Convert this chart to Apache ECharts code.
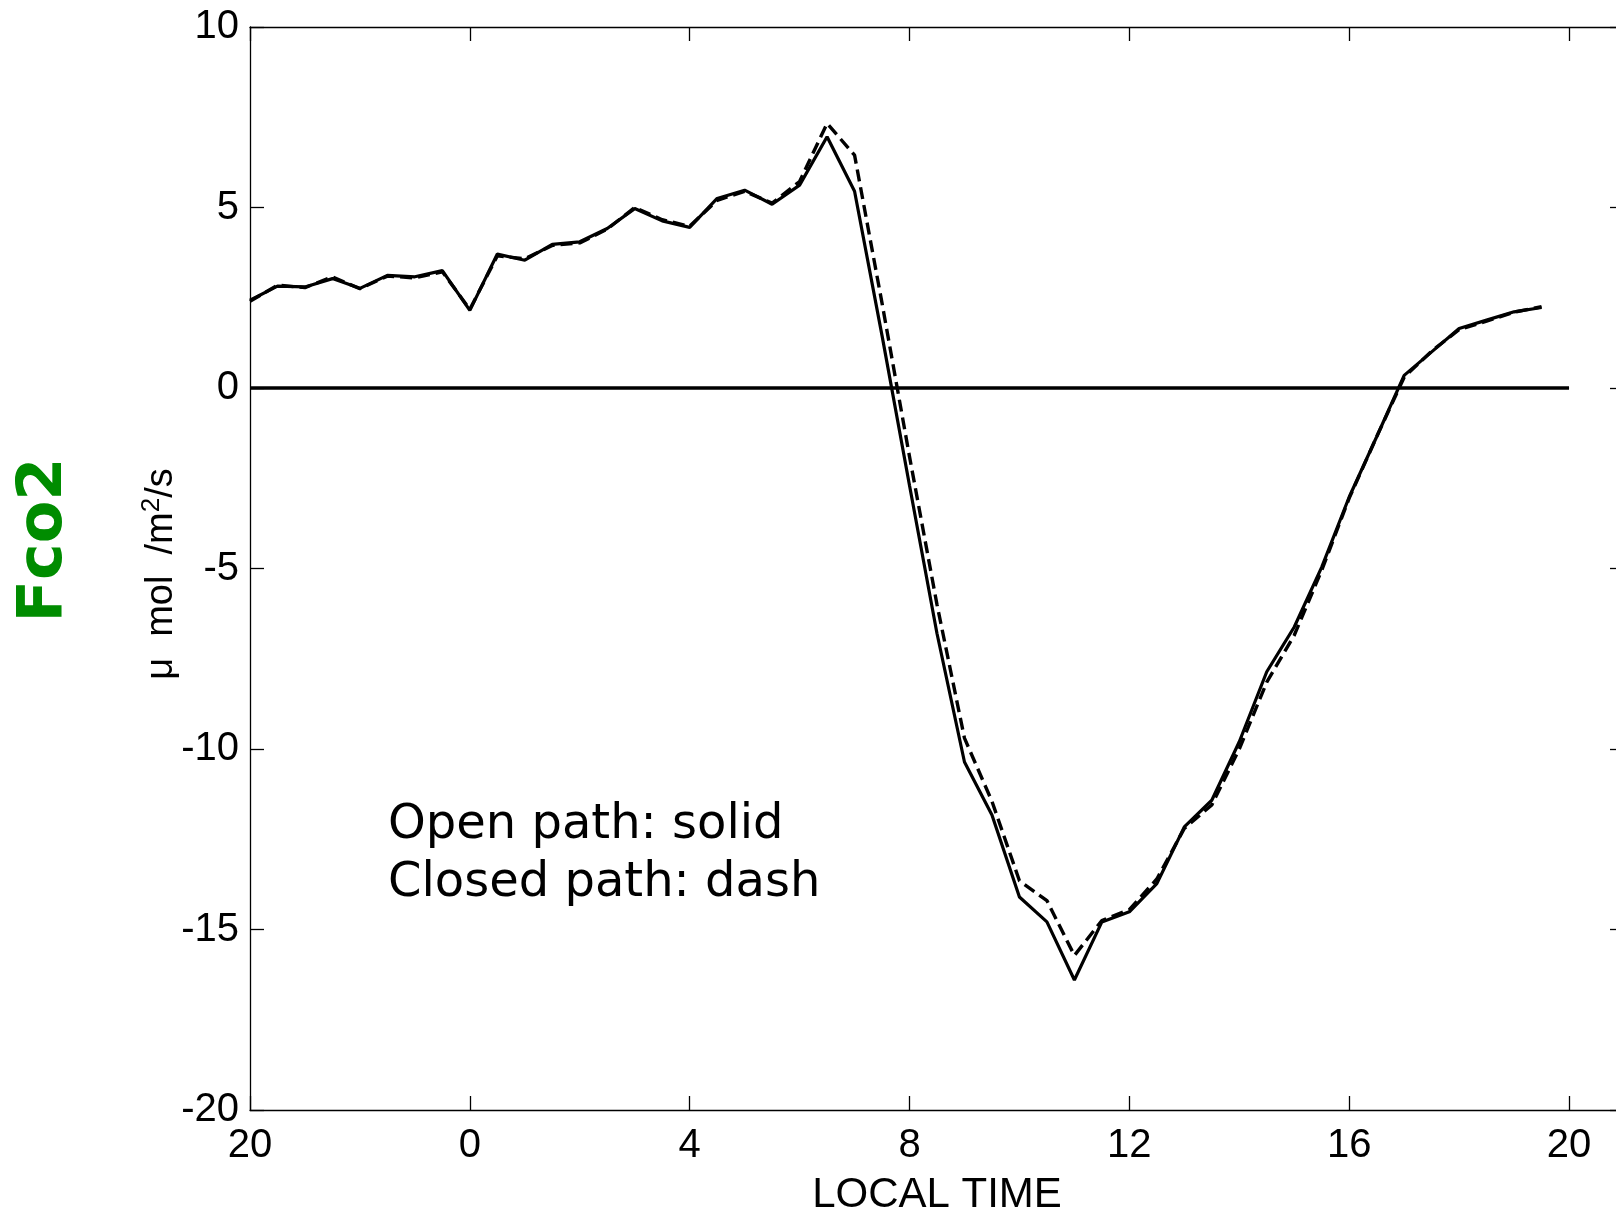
<!DOCTYPE html>
<html>
<head>
<meta charset="utf-8">
<script src="https://cdn.jsdelivr.net/npm/echarts@6/dist/echarts.min.js"></script>
<style>
  html, body { margin: 0; padding: 0; background: #fff; overflow: hidden; }
  #chart { width: 1616px; height: 1213px; }
</style>
</head>
<body>
<div id="chart"></div>
<script>
// Local time in hours (20 = 20:00 of previous day, 44 = 20:00)
const hours = [20, 20.5, 21, 21.5, 22, 22.5, 23, 23.5,
               24, 24.5, 25, 25.5, 26, 26.5, 27, 27.5,
               28, 28.5, 29, 29.5, 30, 30.5, 31, 31.5,
               32, 32.5, 33, 33.5, 34, 34.5, 35, 35.5,
               36, 36.5, 37, 37.5, 38, 38.5, 39, 39.5,
               40, 40.5, 41, 41.5, 42, 42.5, 43, 43.5];

// Open path (solid)
const openPath = [2.43, 2.82, 2.80, 3.03, 2.76, 3.12, 3.08, 3.25,
                  2.15, 3.71, 3.54, 3.98, 4.05, 4.42, 4.97, 4.63,
                  4.45, 5.25, 5.48, 5.09, 5.62, 6.96, 5.45, 1.45,
                  -2.70, -6.80, -10.36, -11.83, -14.10, -14.79, -16.40, -14.79,
                  -14.51, -13.73, -12.16, -11.42, -9.80, -7.86, -6.62, -4.96,
                  -3.02, -1.35, 0.35, 1.00, 1.65, 1.88, 2.11, 2.23];

// Closed path (dash)
const closedPath = [2.40, 2.85, 2.78, 3.08, 2.75, 3.10, 3.05, 3.22,
                    2.18, 3.66, 3.58, 3.95, 4.02, 4.40, 5.00, 4.66,
                    4.48, 5.20, 5.45, 5.12, 5.72, 7.33, 6.45, 2.35,
                    -1.90, -6.00, -9.70, -11.45, -13.65, -14.20, -15.72, -14.75,
                    -14.45, -13.60, -12.20, -11.55, -10.00, -8.15, -6.85, -5.05,
                    -3.05, -1.35, 0.30, 1.02, 1.62, 1.85, 2.10, 2.25];

// Zero reference line
const zeroLineX = [20, 44];
const zeroLineY = [0, 0];

// Axis ticks
const xTickValues = [20, 24, 28, 32, 36, 40, 44];
const xTickLabels = ['20', '0', '4', '8', '12', '16', '20'];
const yTickValues = [-20, -15, -10, -5, 0, 5, 10];

const pairs = (xs, ys) => xs.map((x, i) => [x, ys[i]]);

const axisFont = '"Liberation Sans", Arial, sans-serif';
const lineStyleAxis = { color: '#000', width: 1.3 };
const tickStyle = { show: true, inside: true, length: 14, lineStyle: { color: '#000', width: 1.3 } };

const chart = echarts.init(document.getElementById('chart'), null, { renderer: 'canvas' });

chart.setOption({
  backgroundColor: '#fff',
  animation: false,
  grid: { left: 250, top: 27, width: 1374, height: 1083, containLabel: false, outerBoundsMode: 'none' },
  xAxis: [
    {
      type: 'value', min: 20, max: 45, interval: 4, position: 'bottom',
      axisLine: { show: true, onZero: false, lineStyle: lineStyleAxis },
      axisTick: tickStyle,
      splitLine: { show: false },
      axisLabel: {
        show: true, margin: 16, fontSize: 40, color: '#000', fontFamily: axisFont,
        showMaxLabel: false,
        formatter: v => { const i = xTickValues.indexOf(v); return i >= 0 ? xTickLabels[i] : ''; }
      },
      name: 'LOCAL TIME', nameLocation: 'middle', nameGap: 64,
      nameTextStyle: { fontSize: 42, color: '#000', fontFamily: axisFont }
    },
    {
      type: 'value', min: 20, max: 45, interval: 4, position: 'top',
      axisLine: { show: true, onZero: false, lineStyle: lineStyleAxis },
      axisTick: tickStyle, axisLabel: { show: false }, splitLine: { show: false }
    }
  ],
  yAxis: [
    {
      type: 'value', min: -20, max: 10, interval: 5, position: 'left',
      axisLine: { show: true, onZero: false, lineStyle: lineStyleAxis },
      axisTick: tickStyle,
      splitLine: { show: false },
      axisLabel: {
        show: true, margin: 11, fontSize: 40, color: '#000', fontFamily: axisFont,
        formatter: v => (yTickValues.indexOf(v) >= 0 ? String(v) : '')
      }
    },
    {
      type: 'value', min: -20, max: 10, interval: 5, position: 'right',
      axisLine: { show: true, onZero: false, lineStyle: lineStyleAxis },
      axisTick: tickStyle, axisLabel: { show: false }, splitLine: { show: false }
    }
  ],
  series: [
    {
      name: 'Zero', type: 'line', xAxisIndex: 0, yAxisIndex: 0,
      data: pairs(zeroLineX, zeroLineY), symbol: 'none', silent: true,
      lineStyle: { color: '#000', width: 3.5 }
    },
    {
      name: 'Closed path', type: 'line', xAxisIndex: 0, yAxisIndex: 0,
      data: pairs(hours, closedPath), symbol: 'none',
      lineStyle: { color: '#000', width: 3.4, type: [12, 6] }
    },
    {
      name: 'Open path', type: 'line', xAxisIndex: 0, yAxisIndex: 0,
      data: pairs(hours, openPath), symbol: 'none',
      lineStyle: { color: '#000', width: 3.2 }
    }
  ],
  graphic: [
    {
      type: 'text', x: 45, y: 540, rotation: Math.PI / 2,
      style: {
        text: 'Fco2', fill: '#008C00', align: 'center', verticalAlign: 'middle',
        font: 'bold 62px "DejaVu Sans", Verdana, sans-serif'
      }
    },
    {
      type: 'text', x: 160, y: 574, rotation: Math.PI / 2,
      style: {
        text: '{a|μ  mol  /m}{s|2}{a|/s}', align: 'center', verticalAlign: 'middle',
        rich: {
          a: { fontSize: 38, fontFamily: axisFont, fill: '#000', lineHeight: 42, verticalAlign: 'bottom' },
          s: { fontSize: 26, fontFamily: axisFont, fill: '#000', lineHeight: 42, verticalAlign: 'top' }
        }
      }
    },
    {
      type: 'text', x: 388, y: 826,
      style: {
        text: 'Open path: solid', fill: '#000', align: 'left', verticalAlign: 'middle',
        font: '48px "DejaVu Sans", Verdana, sans-serif'
      }
    },
    {
      type: 'text', x: 388, y: 884,
      style: {
        text: 'Closed path: dash', fill: '#000', align: 'left', verticalAlign: 'middle',
        font: '48px "DejaVu Sans", Verdana, sans-serif'
      }
    }
  ]
});
</script>
</body>
</html>
